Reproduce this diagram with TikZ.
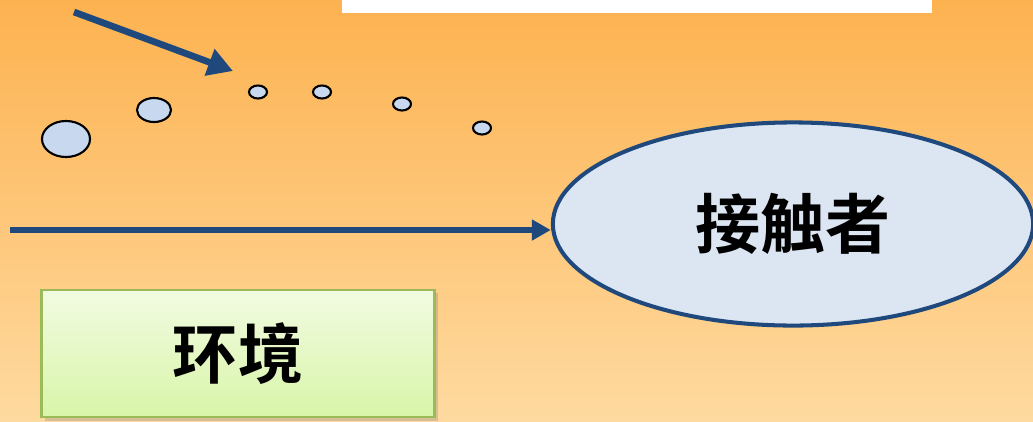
\documentclass[tikz,border=0pt]{standalone}
\usepackage{fontspec}
\newfontfamily\cjk{Noto Sans CJK SC}[BoldFont={Noto Sans CJK SC Bold}]
\usetikzlibrary{arrows.meta,shapes.geometric,shadows}
\definecolor{bgtop}{RGB}{253,178,80}
\definecolor{bgbot}{RGB}{254,218,160}
\definecolor{navy}{RGB}{31,73,125}
\definecolor{dropfill}{RGB}{200,216,238}
\definecolor{hostfill}{RGB}{220,230,242}
\definecolor{envline}{RGB}{155,187,89}
\definecolor{envtop}{RGB}{242,251,226}
\definecolor{envbot}{RGB}{216,245,168}
\tikzset{
    droplet/.style={shape=ellipse, draw=black, line width=0.6pt, fill=dropfill, inner sep=0pt},
    host/.style={shape=ellipse, draw=navy, line width=1.15pt, fill=hostfill, font=\cjk\bfseries\fontsize{18.5pt}{20pt}\selectfont},
    envbox/.style={draw=envline, line width=0.8pt, top color=envtop, bottom color=envbot,
        drop shadow={shadow xshift=1pt, shadow yshift=-1pt, opacity=0.3},
        font=\cjk\bfseries\fontsize{18.5pt}{20pt}\selectfont},
    flow/.style={draw=navy, -{Triangle[length=0.19cm, width=0.2cm]}}
}
\begin{document}
\begin{tikzpicture}[x=0.01cm, y=-0.01cm]
    \useasboundingbox (0,0) rectangle (1033,421);
    \shade[top color=bgtop, bottom color=bgbot] (0,0) rectangle (1033,421);
    \fill[white] (342,0) rectangle (932,13);

    % droplets
    \foreach \x/\y/\w/\h [count=\i] in {66/139/48/36, 154/110/34/24, 258/92/18/13,
                                       322/92/18/13, 402/104/18/13, 482/128/18/13}
        {\node[droplet, minimum width=\w*0.1mm, minimum height=\h*0.1mm] (drop\i) at (\x,\y) {};}

    \node[host, minimum width=4.8cm, minimum height=2.03cm] (contact) at (793,224) {接触者};
    \node[envbox, minimum width=3.92cm, minimum height=1.27cm] (env) at (238,353.5) {环境};

    \coordinate (src) at (74,12);
    \coordinate (aim) at (233,71);
    \coordinate (start) at (10,230);
    \draw [flow, line width=1.9pt, -{Triangle[length=0.25cm, width=0.27cm]}] (src) -- (aim);
    \draw [flow, line width=1.6pt] (start) -- (start -| contact.west);

\end{tikzpicture}
\end{document}
